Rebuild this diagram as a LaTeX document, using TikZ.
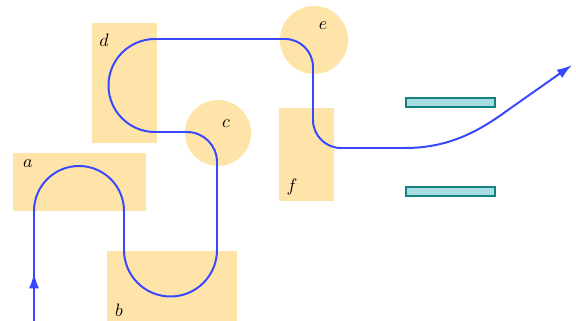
\documentclass[tikz,border=0pt]{standalone}
\usetikzlibrary{arrows.meta}
\definecolor{boxfill}{RGB}{255,228,170}
\definecolor{pathblue}{RGB}{55,72,255}
\definecolor{barfill}{RGB}{166,220,226}
\definecolor{bardraw}{RGB}{20,128,128}
\newcommand\pxu{0.5556pt}
\begin{document}
\begin{tikzpicture}[x=0.5556pt,y=0.5556pt,
  boxshape/.style={fill=boxfill,draw=none,inner sep=0pt,rectangle},
  ballshape/.style={fill=boxfill,draw=none,inner sep=0pt,circle},
  barshape/.style={fill=barfill,draw=bardraw,line width=0.6pt,inner sep=0pt,rectangle,minimum width=89*\pxu,minimum height=9*\pxu},
  lbl/.style={inner sep=0pt},
  route/.style={draw=pathblue,line width=1.1pt},
  tip/.style={-{Latex[length=8.5pt,width=5.5pt]}}]
\useasboundingbox (0,0) rectangle (576,321);
% shapes
\node[boxshape,minimum width=133*\pxu,minimum height=58*\pxu] (A) at (79.5,139) {};
\node[boxshape,minimum width=130*\pxu,minimum height=70*\pxu] (B) at (172,35) {};
\node[boxshape,minimum width=65*\pxu,minimum height=120*\pxu] (D) at (124.5,238) {};
\node[boxshape,minimum width=55*\pxu,minimum height=93*\pxu] (F) at (306.5,166.5) {};
\node[ballshape,minimum size=66*\pxu] (C) at (218,188) {};
\node[ballshape,minimum size=68*\pxu] (E) at (314,281) {};
\node[barshape] (bar1) at (450.5,218.5) {};
\node[barshape] (bar2) at (450.5,129.5) {};
% labels
\node[lbl] (la) at (28,157) {$a$};
\node[lbl] (lb) at (119,11) {$b$};
\node[lbl] (lc) at (226,197) {$c$};
\node[lbl] (ld) at (104,281) {$d$};
\node[lbl] (le) at (323,295) {$e$};
\node[lbl] (lf) at (292,134) {$f$};
% route
\coordinate (start) at (34,0);
\coordinate (mid) at (34,48);
\coordinate (finish) at (572,256);
\draw[route,tip] (start) -- (mid);
\draw[route,tip] (start) -- (34,110) arc (180:0:45) -- (124,71) arc (180:360:46.5)
  -- (217,159) arc (0:90:30) -- (155,189)
  arc (270:90:46.5)
  -- (285,282) arc (90:0:28) -- (313,201) arc (180:270:28) -- (405,173)
  .. controls (448,173) and (478,189) .. (508,211) -- (finish);
\end{tikzpicture}
\end{document}
